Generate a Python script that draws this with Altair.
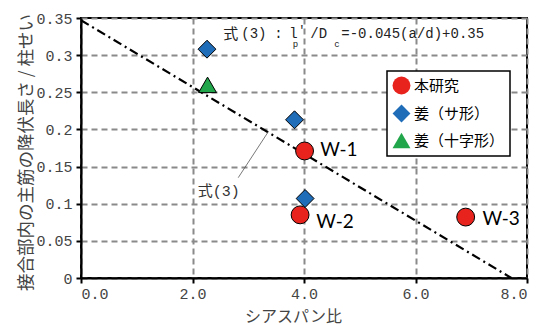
import altair as alt
import pandas as pd

# ---- data ----
series = ["本研究", "本研究", "本研究", "姜（サ形）", "姜（サ形）", "姜（サ形）", "姜（十字形）"]
shear_span = [4.01, 3.93, 6.90, 2.26, 3.83, 4.02, 2.27]
ratio = [0.171, 0.085, 0.082, 0.308, 0.213, 0.107, 0.260]

point_labels = ["W-1", "W-2", "W-3"]
label_x = [4.29, 4.22, 7.2]
label_y = [0.172, 0.075, 0.080]

eq_x = [0.0, 7.72]
eq_y = [0.347, 0.0]

x_ticks = [0, 2, 4, 6, 8]
y_ticks = [0, 0.05, 0.1, 0.15, 0.2, 0.25, 0.3, 0.35]

legend_order = ["本研究", "姜（サ形）", "姜（十字形）"]
legend_colors = ["#e8231e", "#1f6cb8", "#22a64b"]
legend_shapes = ["circle", "diamond", "triangle-up"]

# formula annotation pieces: text, x, y, font size
ann_text = ["式", "(3)", ":", "l", "p", "'", "/D", "c", "=-0.045(a/d)+0.35"]
ann_x = [2.553, 2.875, 3.467, 3.736, 3.80, 3.898, 4.113, 4.543, 4.669]
ann_y = [0.329, 0.329, 0.329, 0.329, 0.3145, 0.334, 0.329, 0.3145, 0.329]
ann_size = [15, 14, 14, 14, 9, 12, 14, 9, 14]

CJK = "Noto Sans CJK JP"
MONO = "Liberation Mono, Noto Sans CJK JP"

pts = pd.DataFrame({"series": series, "x": shear_span, "y": ratio})
lab = pd.DataFrame({"t": point_labels, "x": label_x, "y": label_y})
eq = pd.DataFrame({"x": eq_x, "y": eq_y})
ann = pd.DataFrame({"t": ann_text, "x": ann_x, "y": ann_y, "s": ann_size})

xs = alt.Scale(domain=[0, 8], nice=False)
ys = alt.Scale(domain=[0, 0.35], nice=False)

xax = alt.Axis(values=x_ticks, format=".1f", title="シアスパン比", grid=True,
               titleX=212, titleY=38, titleBaseline="middle")
yax = alt.Axis(values=y_ticks, format="~g", title="接合部内の主筋の降伏長さ / 柱せい", grid=True,
               labelOverlap=False, titleX=-55, titleY=134, titleBaseline="middle", titleAlign="center",
               titleAngle=270)

X = alt.X("x:Q", scale=xs, axis=xax)
Y = alt.Y("y:Q", scale=ys, axis=yax)

leg = alt.Legend(title=None, orient="none", legendX=306, legendY=53,
                 fillColor="white", strokeColor="black", padding=5,
                 symbolSize=320, symbolStrokeColor="black", symbolStrokeWidth=1,
                 labelFont=CJK, labelFontSize=15, labelColor="black",
                 rowPadding=5, labelOffset=3)

line = alt.Chart(eq).mark_line(color="black", strokeWidth=2.2, strokeDash=[9, 4, 2, 4]).encode(x=X, y=Y)

points = alt.Chart(pts).mark_point(filled=True, stroke="black", strokeWidth=1, size=320, opacity=1).encode(
    x=X, y=Y,
    fill=alt.Fill("series:N", scale=alt.Scale(domain=legend_order, range=legend_colors), legend=leg),
    shape=alt.Shape("series:N", scale=alt.Scale(domain=legend_order, range=legend_shapes), legend=leg),
)

wl = alt.Chart(lab).mark_text(align="left", baseline="middle", font="Lato", fontSize=19, color="black").encode(
    x=X, y=Y, text="t:N"
)

# leader for 式(3)
leader_df = pd.DataFrame({"x": [2.82], "y": [0.135], "x2": [3.36], "y2": [0.197]})
leader = alt.Chart(leader_df).mark_rule(color="#555555", strokeWidth=0.8).encode(
    x=X, y=Y, x2="x2:Q", y2="y2:Q"
)

eqlab_df = pd.DataFrame({"t": ["式(3)"], "x": [2.47], "y": [0.117]})
eqlab = alt.Chart(eqlab_df).mark_text(font=MONO, fontSize=15, color="#333333").encode(
    x=X, y=Y, text="t:N"
)

annot = alt.Chart(ann).mark_text(align="left", baseline="middle", font=MONO, color="#222222").encode(
    x=X, y=Y, text="t:N",
    size=alt.Size("s:Q", scale=None, legend=None)
)

chart = alt.layer(line, leader, points, wl, eqlab, annot).properties(
    width=446, height=260,
    autosize=alt.AutoSizeParams(type="none"),
    padding={"left": 73, "top": 10, "right": 11, "bottom": 48},
).configure_view(stroke="black", strokeWidth=2).configure_legend(strokeWidth=1.5).configure_axis(
    domainColor="black", domainWidth=2, tickColor="black", tickWidth=2, tickSize=5,
    gridColor="#8a8a8a", gridDash=[6, 4], gridWidth=2,
    labelFont=MONO, labelFontSize=15, labelColor="#444444",
    titleFont=CJK, titleFontSize=16, titleColor="#444444", titleFontWeight="normal",
).configure_axisX(labelPadding=3).configure_axisY(labelPadding=4, titleFontSize=17.5)

chart.save("out.html", embed_options={"renderer": "svg", "actions": False})
